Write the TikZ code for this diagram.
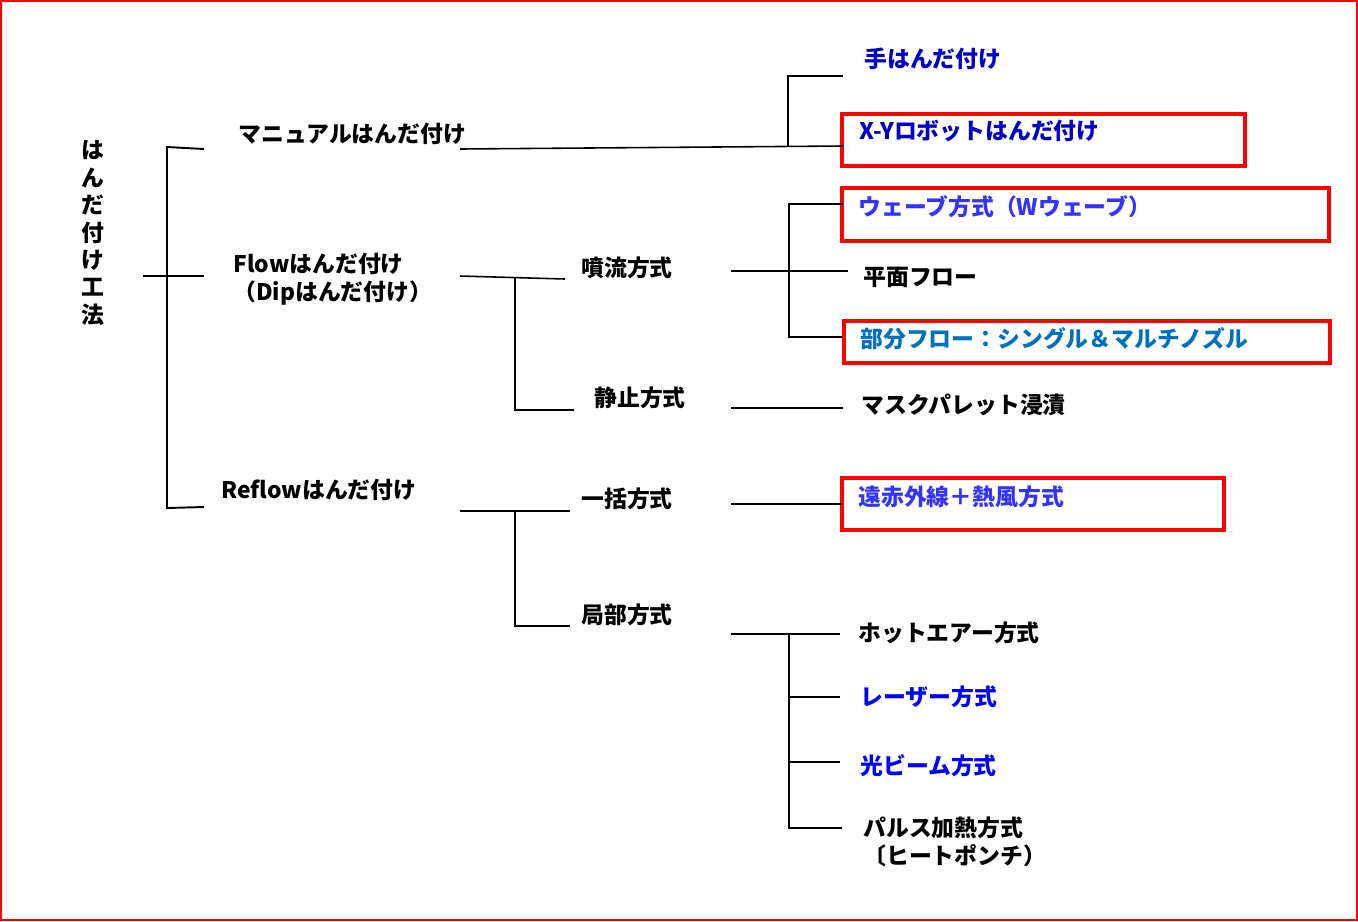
\documentclass[tikz,border=0pt]{standalone}
\usepackage{fontspec}
\setmainfont{Noto Sans CJK JP}
\usepackage{tikz}
\definecolor{frame}{RGB}{255,0,0}
\definecolor{handblue}{RGB}{0,0,200}
\definecolor{waveblue}{RGB}{51,51,255}
\definecolor{partblue}{RGB}{0,112,192}
\definecolor{beamblue}{RGB}{0,0,255}
\usetikzlibrary{positioning}

\tikzset{
  branch/.style={line width=1.1pt, color=black},
  item/.style={anchor=west, inner sep=0pt, font=\fontsize{13}{15.9}\selectfont\bfseries},
  redbox/.style={draw=frame, line width=2.2pt, anchor=north west, inner sep=0pt, outer sep=0pt},
}

\begin{document}
\begin{tikzpicture}[x=0.02cm, y=-0.02cm]

  \useasboundingbox (0,0) rectangle (1358,921);
  \draw[frame, line width=1.2pt] (1,1) rectangle (1357,920);

  % root
  \node[item, anchor=north, align=center, font=\fontsize{13}{15.6}\selectfont\bfseries] (root) at (93,140.5) {は\\ん\\だ\\付\\け\\工\\法};
  \coordinate (r0) at (143,276);
  \coordinate (r1) at (167,147);
  \coordinate (r2) at (167,508);
  \coordinate (rm) at (204,149);
  \coordinate (rf) at (204,276);
  \coordinate (rr) at (204,507);
  \draw[branch] (rm) -- (r1) -- (r2) -- (rr);
  \draw[branch] (r0) -- (rf);

  % first level
  \node[item] (manual) at (238,134) {マニュアルはんだ付け};
  \node[item, align=left] (flow) at (233,279) {Flowはんだ付け\\（Dipはんだ付け）};
  \node[item] (reflow) at (221,490) {Reflowはんだ付け};

  % red boxes
  \node[redbox, minimum width=8.06cm, minimum height=1.04cm] (xybox) at (842,114) {};
  \node[redbox, minimum width=9.74cm, minimum height=1.06cm] (wavebox) at (842,188) {};
  \node[redbox, minimum width=9.72cm, minimum height=0.84cm] (partbox) at (844,321) {};
  \node[redbox, minimum width=7.64cm, minimum height=1.04cm] (farbox) at (842,478) {};

  % manual
  \coordinate (m0) at (460,149);
  \coordinate (m1) at (843,146);
  \coordinate (m2) at (788,146);
  \coordinate (m3) at (788,76);
  \coordinate (m4) at (843,76);
  \draw[branch, line width=0.9pt] (m0) -- (m1);
  \draw[branch] (m2) -- (m3) -- (m4);
  \node[item, color=handblue] (hand) at (864,59) {手はんだ付け};
  \node[item, color=handblue] (xy) at (859,131) {X-Yロボットはんだ付け};

  % flow
  \coordinate (f0) at (460,276);
  \coordinate (f1) at (565,279);
  \coordinate (f2) at (515,278);
  \coordinate (f3) at (515,410);
  \coordinate (f4) at (574,410);
  \draw[branch, line width=0.9pt] (f0) -- (f1);
  \draw[branch] (f2) -- (f3) -- (f4);
  \node[item] (jet) at (581,268) {噴流方式};
  \node[item] (still) at (594,398) {静止方式};

  % jet
  \coordinate (j0) at (731,271);
  \coordinate (j1) at (848,271);
  \coordinate (j2) at (789,204);
  \coordinate (j3) at (843,204);
  \coordinate (j4) at (789,337);
  \coordinate (j5) at (843,337);
  \draw[branch] (j0) -- (j1);
  \draw[branch] (j3) -- (j2) -- (j4) -- (j5);
  \node[item, color=waveblue] (wave) at (858,207) {ウェーブ方式（Wウェーブ）};
  \node[item] (flat) at (863,277) {平面フロー};
  \node[item, color=partblue] (part) at (860,339) {部分フロー：シングル＆マルチノズル};

  % still
  \coordinate (s0) at (731,408);
  \coordinate (s1) at (843,408);
  \draw[branch] (s0) -- (s1);
  \node[item] (mask) at (861,405) {マスクパレット浸漬};

  % reflow
  \coordinate (b0) at (460,511);
  \coordinate (b1) at (570,511);
  \coordinate (b2) at (515,511);
  \coordinate (b3) at (515,626);
  \coordinate (b4) at (570,626);
  \draw[branch] (b0) -- (b1);
  \draw[branch] (b2) -- (b3) -- (b4);
  \node[item] (batch) at (581,499) {一括方式};
  \node[item] (local) at (581,615) {局部方式};

  % batch
  \coordinate (a0) at (731,504);
  \draw[branch] (a0) -- (farbox.west);
  \node[item, color=waveblue] (far) at (858,497) {遠赤外線＋熱風方式};

  % local
  \coordinate (l0) at (731,634);
  \coordinate (l1) at (840,634);
  \coordinate (l2) at (789,634);
  \coordinate (l3) at (789,828);
  \coordinate (l4) at (842,828);
  \coordinate (l5) at (789,697);
  \coordinate (l6) at (840,697);
  \coordinate (l7) at (789,762);
  \coordinate (l8) at (840,762);
  \draw[branch] (l0) -- (l1);
  \draw[branch] (l2) -- (l3) -- (l4);
  \draw[branch] (l5) -- (l6);
  \draw[branch] (l7) -- (l8);
  \node[item] (hot) at (858,633) {ホットエアー方式};
  \node[item, color=beamblue] (laser) at (860,697) {レーザー方式};
  \node[item, color=beamblue] (beam) at (860,766) {光ビーム方式};
  \node[item, align=left] (pulse) at (863,842) {パルス加熱方式\\〔ヒートポンチ）};

\end{tikzpicture}
\end{document}
